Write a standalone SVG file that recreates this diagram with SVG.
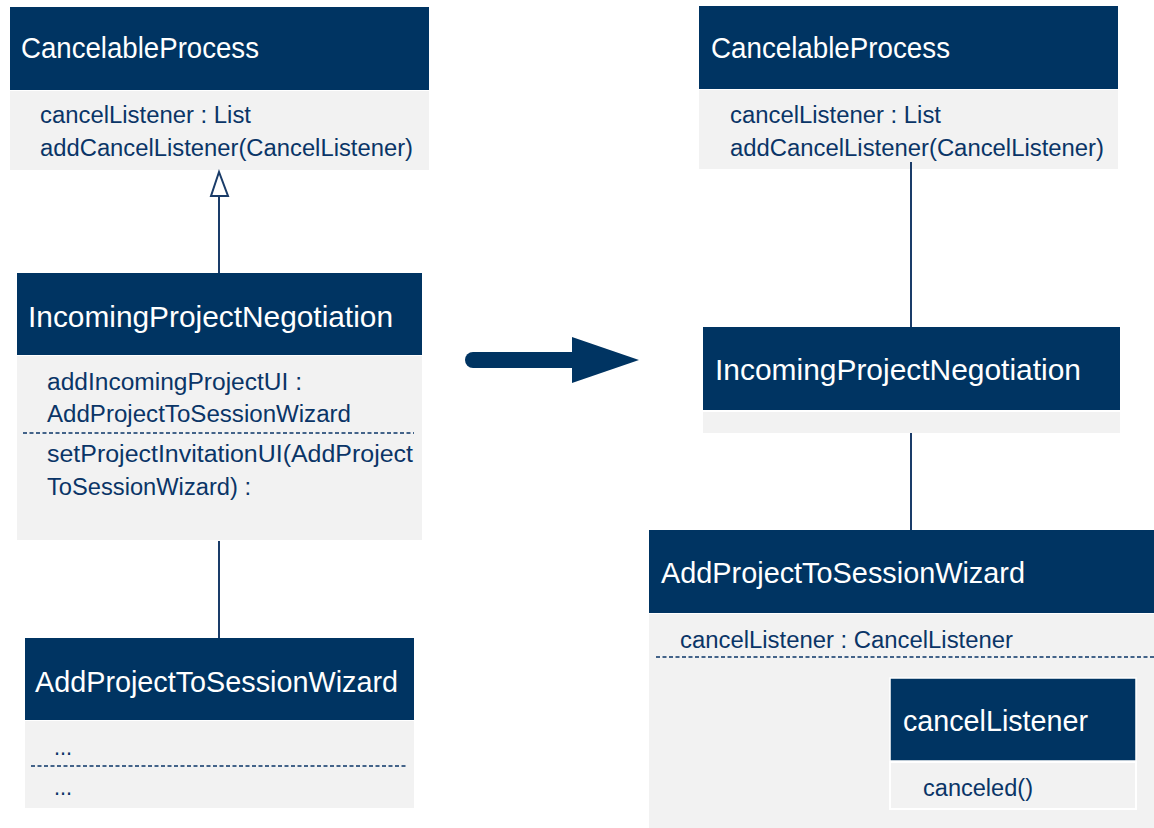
<svg xmlns="http://www.w3.org/2000/svg" width="1154" height="828" viewBox="0 0 1154 828">
<style>
.hd{fill:#003462}
.bd{fill:#f2f2f2}
.tt{font-family:"Liberation Sans",Arial,sans-serif;font-size:29px;fill:#ffffff}
.tx{font-family:"Liberation Sans",Arial,sans-serif;font-size:23px;fill:#0a3567}
.dash{stroke:#0a3567;stroke-width:1.5;stroke-dasharray:4 2.5;fill:none}
.ln{stroke:#1a3c69;stroke-width:2;fill:none}
</style>
<rect width="1154" height="828" fill="#ffffff"/>
<g id="left-cancelable">
<rect class="hd" x="10" y="7" width="419" height="83"/>
<rect class="bd" x="10" y="91" width="419" height="79"/>
<text class="tt" x="21" y="58" textLength="238" lengthAdjust="spacingAndGlyphs">CancelableProcess</text>
<text class="tx" x="40" y="123" textLength="211" lengthAdjust="spacingAndGlyphs">cancelListener : List</text>
<text class="tx" x="40" y="156" textLength="373" lengthAdjust="spacingAndGlyphs">addCancelListener(CancelListener)</text>
</g>
<g id="left-incoming">
<rect class="hd" x="17" y="273" width="405" height="82"/>
<rect class="bd" x="17" y="356" width="405" height="184"/>
<text class="tt" x="28" y="327" textLength="365" lengthAdjust="spacingAndGlyphs">IncomingProjectNegotiation</text>
<text class="tx" x="47" y="390" textLength="255" lengthAdjust="spacingAndGlyphs">addIncomingProjectUI :</text>
<text class="tx" x="47" y="422" textLength="304" lengthAdjust="spacingAndGlyphs">AddProjectToSessionWizard</text>
<line class="dash" x1="23" y1="433" x2="414" y2="433"/>
<text class="tx" x="47" y="462" textLength="366" lengthAdjust="spacingAndGlyphs">setProjectInvitationUI(AddProject</text>
<text class="tx" x="47" y="495" textLength="204" lengthAdjust="spacingAndGlyphs">ToSessionWizard) :</text>
</g>
<g id="left-wizard">
<rect class="hd" x="25" y="638" width="389" height="82"/>
<rect class="bd" x="25" y="721" width="389" height="87"/>
<text class="tt" x="35" y="692" textLength="363" lengthAdjust="spacingAndGlyphs">AddProjectToSessionWizard</text>
<text class="tx" x="54" y="755" textLength="18" lengthAdjust="spacingAndGlyphs">...</text>
<line class="dash" x1="31" y1="766" x2="408" y2="766"/>
<text class="tx" x="54" y="795" textLength="18" lengthAdjust="spacingAndGlyphs">...</text>
</g>
<g id="right-cancelable">
<rect class="hd" x="699" y="6" width="419" height="83"/>
<rect class="bd" x="699" y="90" width="419" height="79"/>
<text class="tt" x="711" y="58" textLength="239" lengthAdjust="spacingAndGlyphs">CancelableProcess</text>
<text class="tx" x="730" y="123" textLength="211" lengthAdjust="spacingAndGlyphs">cancelListener : List</text>
<text class="tx" x="730" y="156" textLength="374" lengthAdjust="spacingAndGlyphs">addCancelListener(CancelListener)</text>
</g>
<g id="right-incoming">
<rect class="hd" x="703" y="327" width="417" height="83"/>
<rect class="bd" x="703" y="412" width="417" height="21"/>
<text class="tt" x="715" y="380" textLength="366" lengthAdjust="spacingAndGlyphs">IncomingProjectNegotiation</text>
</g>
<g id="right-wizard">
<rect class="hd" x="649" y="530" width="505" height="83"/>
<rect class="bd" x="649" y="614" width="505" height="214"/>
<text class="tt" x="661" y="583" textLength="364" lengthAdjust="spacingAndGlyphs">AddProjectToSessionWizard</text>
<text class="tx" x="680" y="648" textLength="333" lengthAdjust="spacingAndGlyphs">cancelListener : CancelListener</text>
<line class="dash" x1="656" y1="657" x2="1154" y2="657"/>
</g>
<g id="inner-cancelListener">
<rect class="hd" x="890" y="678" width="246" height="83" stroke="#ffffff" stroke-width="1.5"/>
<rect class="bd" x="890" y="762" width="246" height="47" stroke="#ffffff" stroke-width="2"/>
<text class="tt" x="903" y="731" textLength="185" lengthAdjust="spacingAndGlyphs">cancelListener</text>
<text class="tx" x="923" y="796" textLength="110" lengthAdjust="spacingAndGlyphs">canceled()</text>
</g>
<g id="connectors">
<line class="ln" x1="219" y1="196" x2="219" y2="273"/>
<polygon points="219,172 211,196 228,196" fill="#ffffff" stroke="#1a3c69" stroke-width="2"/>
<line class="ln" x1="219" y1="541" x2="219" y2="638"/>
<line class="ln" x1="911" y1="162" x2="911" y2="327"/>
<line class="ln" x1="911" y1="433" x2="911" y2="530"/>
<line x1="473" y1="360" x2="574" y2="360" stroke="#003462" stroke-width="16" stroke-linecap="round"/>
<polygon points="572,337 639,360 572,383" fill="#003462"/>
</g>
</svg>
